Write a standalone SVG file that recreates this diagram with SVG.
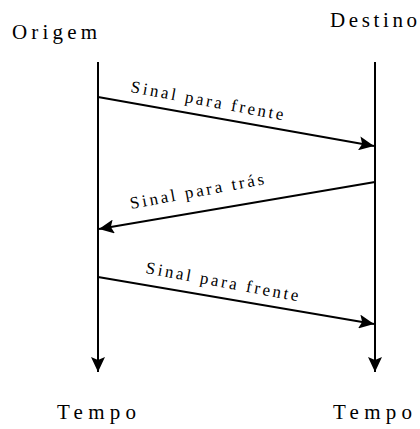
<svg xmlns="http://www.w3.org/2000/svg" width="420" height="429" viewBox="0 0 420 429">
<style>
.t{font-family:"Liberation Serif","Times New Roman",serif;fill:#000}
.h{font-size:21px}
.l{font-size:17px}
.c{stroke:#000;stroke-width:2;fill:none}
</style>
<defs>
<marker id="ah" viewBox="0 0 15 14" refX="15" refY="7" markerWidth="15" markerHeight="14" markerUnits="userSpaceOnUse" orient="auto">
<path d="M0,0 L15,7 L0,14 L3,7 Z" fill="#000"/>
</marker>
</defs>
<rect width="420" height="429" fill="#fff"/>
<g id="origem"><text class="t h" x="12" y="39" textLength="85" lengthAdjust="spacing">Origem</text></g>
<g id="destino"><text class="t h" x="330" y="27" textLength="87" lengthAdjust="spacing">Destino</text></g>
<g id="tempo-left"><text class="t h" x="57" y="419" textLength="79" lengthAdjust="spacing">Tempo</text></g>
<g id="tempo-right"><text class="t h" x="333" y="419" textLength="79" lengthAdjust="spacing">Tempo</text></g>
<g id="connectors">
<line class="c" x1="98" y1="62" x2="98" y2="372" marker-end="url(#ah)"/>
<line class="c" x1="375" y1="62" x2="375" y2="372" marker-end="url(#ah)"/>
<line class="c" x1="98" y1="97" x2="374" y2="146" marker-end="url(#ah)"/>
<line class="c" x1="375" y1="182" x2="99" y2="229" marker-end="url(#ah)"/>
<line class="c" x1="98" y1="277" x2="374" y2="324" marker-end="url(#ah)"/>
</g>
<g id="label1"><text class="t l" transform="translate(130,92) rotate(10.5)" textLength="155" lengthAdjust="spacing">Sinal para frente</text></g>
<g id="label2"><text class="t l" transform="translate(131,209) rotate(-10.5)" textLength="136" lengthAdjust="spacing">Sinal para trás</text></g>
<g id="label3"><text class="t l" transform="translate(145,273) rotate(10.5)" textLength="155" lengthAdjust="spacing">Sinal para frente</text></g>
</svg>
